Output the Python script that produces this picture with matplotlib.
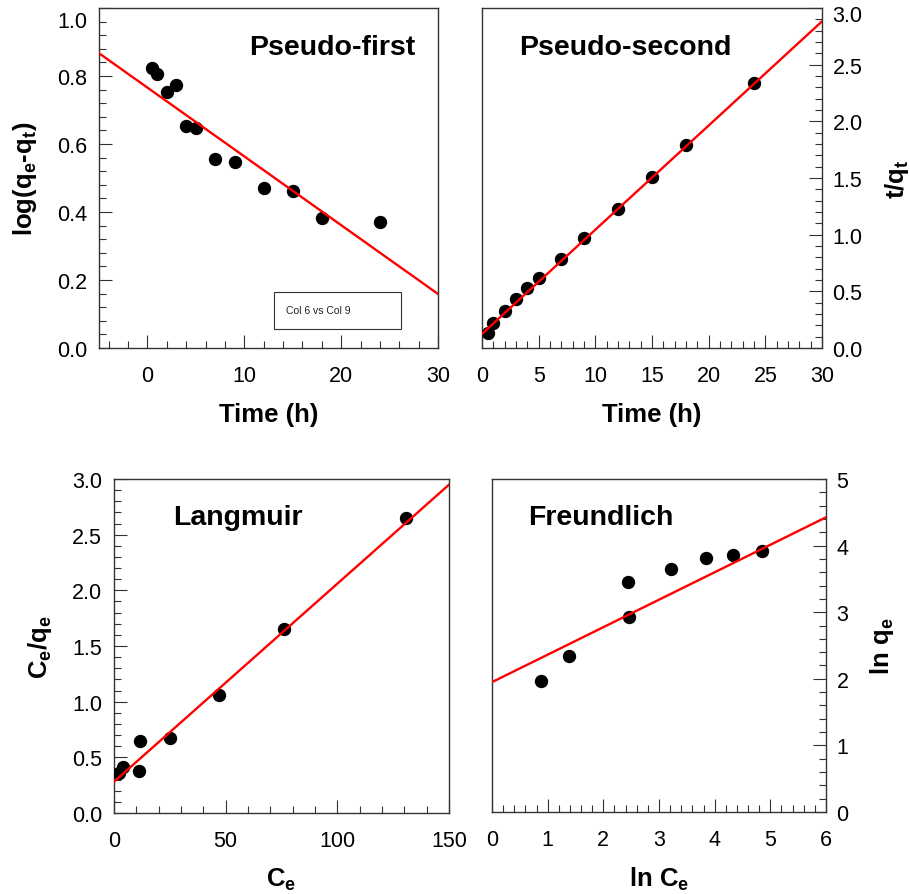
import matplotlib
matplotlib.use('Agg')
import matplotlib.pyplot as plt
from matplotlib.ticker import MultipleLocator, AutoMinorLocator, FormatStrFormatter
from matplotlib.patches import Rectangle

plt.rcParams['font.family'] = ['Liberation Sans', 'DejaVu Sans']
plt.rcParams['mathtext.fontset'] = 'custom'
plt.rcParams['mathtext.rm'] = 'Liberation Sans'
plt.rcParams['mathtext.it'] = 'Liberation Sans:italic'
plt.rcParams['mathtext.bf'] = 'Liberation Sans:bold'

# Pseudo-first order kinetics
pf_time = [0.5, 1, 2, 3, 4, 5, 7, 9, 12, 15, 18, 24]
pf_log = [0.824, 0.806, 0.752, 0.774, 0.652, 0.646, 0.555, 0.548, 0.471, 0.462, 0.382, 0.372]
pf_fit_x = [-5, 30]
pf_fit_y = [0.867, 0.159]

# Pseudo-second order kinetics
ps_time = [0.5, 1, 2, 3, 4, 5, 7, 9, 12, 15, 18, 24]
ps_tq = [0.129, 0.218, 0.329, 0.432, 0.526, 0.618, 0.788, 0.968, 1.229, 1.512, 1.788, 2.341]
ps_fit_x = [0, 30]
ps_fit_y = [0.125, 2.882]

# Langmuir isotherm
lg_ce = [2.2, 3.9, 11.5, 11.3, 25.0, 46.9, 76.3, 130.7]
lg_ceqe = [0.36, 0.41, 0.65, 0.38, 0.674, 1.057, 1.650, 2.650]
lg_fit_x = [0, 150]
lg_fit_y = [0.281, 2.949]

# Freundlich isotherm
fr_lnce = [0.886, 1.389, 2.449, 2.461, 3.216, 3.838, 4.329, 4.856]
fr_lnqe = [1.965, 2.335, 3.455, 2.925, 3.645, 3.82, 3.86, 3.915]
fr_fit_x = [0, 6]
fr_fit_y = [1.95, 4.425]

W, H = 910, 895
AX_COLOR = '#333333'
TICK_FS = 15.5
LABEL_FS = 18.5
TITLE_FS = 20.5


def px_axes(fig, left, right, top, bottom):
    return fig.add_axes([left / W, (H - bottom) / H, (right - left) / W, (bottom - top) / H])


def style_axes(ax, xmaj, ymaj, yfmt, side='left'):
    for s in ax.spines.values():
        s.set_color(AX_COLOR)
        s.set_linewidth(1.0)
    ax.xaxis.set_major_locator(MultipleLocator(xmaj))
    ax.xaxis.set_minor_locator(AutoMinorLocator(5))
    ax.yaxis.set_major_locator(MultipleLocator(ymaj))
    ax.yaxis.set_minor_locator(AutoMinorLocator(5))
    ax.yaxis.set_major_formatter(FormatStrFormatter(yfmt))
    ax.tick_params(which='both', direction='in', colors=AX_COLOR, labelcolor='black',
                   labelsize=TICK_FS, top=False, right=False)
    ax.tick_params(which='major', length=9.6, width=0.8)
    ax.tick_params(which='minor', length=4.9, width=0.8)
    ax.tick_params(axis='x', pad=12.2)
    if side == 'right':
        ax.yaxis.tick_right()
        ax.tick_params(axis='y', which='both', left=False, right=True, pad=7.5)
        ax.yaxis.set_label_position('right')
    else:
        ax.tick_params(axis='y', pad=8.6)


def set_labels(ax, xlabel, ylabel, xpos, ypos):
    ax.set_xlabel(xlabel, fontsize=LABEL_FS, fontweight='bold')
    ax.set_ylabel(ylabel, fontsize=LABEL_FS, fontweight='bold')
    ax.xaxis.set_label_coords(*xpos)
    ax.yaxis.set_label_coords(*ypos)
    ax.xaxis.label.set_va('center')
    ax.yaxis.label.set_va('center')
    ax.yaxis.label.set_ha('center')
    ax.yaxis.label.set_rotation(90)


def draw(ax, x, y, fit_x, fit_y, title, tx):
    ax.plot(x, y, 'o', color='black', markersize=8.6, zorder=3)
    ax.plot(fit_x, fit_y, '-', color='#ff0000', linewidth=1.7, zorder=4)
    ax.text(tx, 0.866, title, transform=ax.transAxes, fontsize=TITLE_FS, fontweight='bold',
            ha='left', va='baseline')


fig = plt.figure(figsize=(W / 100, H / 100), dpi=100)

# Pseudo-first
ax1 = px_axes(fig, 99, 438, 9, 349)
draw(ax1, pf_time, pf_log, pf_fit_x, pf_fit_y, 'Pseudo-first', 0.442)
style_axes(ax1, 10, 0.2, '%.1f')
ax1.set_xlim(-5, 30)
ax1.set_ylim(0, 1.0)
ax1.set_yticks([0, 0.2, 0.4, 0.6, 0.8, 1.0], ['0.0', '0.2', '0.4', '0.6', '0.8', ''])
ax1.annotate('1.0', xy=(0, 1.0), xycoords=('axes fraction', 'data'), xytext=(-8.6, -9.5),
             textcoords='offset points', ha='right', va='center', fontsize=TICK_FS)
set_labels(ax1, 'Time (h)', r'log(q$_\mathbf{e}$-q$_\mathbf{t}$)', (0.5, -0.194), (-0.218, 0.5))
ax1.add_patch(Rectangle((0.516, 0.056), 0.375, 0.11, transform=ax1.transAxes,
                        facecolor='white', edgecolor=AX_COLOR, linewidth=0.8, zorder=5))
ax1.text(0.552, 0.111, 'Col 6 vs Col 9', transform=ax1.transAxes, fontsize=7.5,
         ha='left', va='center', color='#222222', zorder=6)

# Pseudo-second
ax2 = px_axes(fig, 482, 822, 9, 349)
draw(ax2, ps_time, ps_tq, ps_fit_x, ps_fit_y, 'Pseudo-second', 0.109)
style_axes(ax2, 5, 0.5, '%.1f', side='right')
ax2.set_xlim(0, 30)
ax2.set_ylim(0, 3.0)
ax2.set_yticks([0, 0.5, 1.0, 1.5, 2.0, 2.5, 3.0], ['0.0', '0.5', '1.0', '1.5', '2.0', '2.5', ''])
ax2.annotate('3.0', xy=(1, 3.0), xycoords=('axes fraction', 'data'), xytext=(7.5, -5.5),
             textcoords='offset points', ha='left', va='center', fontsize=TICK_FS)
set_labels(ax2, 'Time (h)', r't/q$_\mathbf{t}$', (0.5, -0.194), (1.22, 0.5))

# Langmuir
ax3 = px_axes(fig, 114, 449, 480, 814)
draw(ax3, lg_ce, lg_ceqe, lg_fit_x, lg_fit_y, 'Langmuir', 0.176)
style_axes(ax3, 50, 0.5, '%.1f')
ax3.set_xlim(0, 150)
ax3.set_ylim(0, 3.0)
set_labels(ax3, r'C$_\mathbf{e}$', r'C$_\mathbf{e}$/q$_\mathbf{e}$', (0.5, -0.198), (-0.221, 0.5))

# Freundlich
ax4 = px_axes(fig, 492, 826, 480, 813)
draw(ax4, fr_lnce, fr_lnqe, fr_fit_x, fr_fit_y, 'Freundlich', 0.108)
style_axes(ax4, 1, 1, '%d', side='right')
ax4.set_xlim(0, 6)
ax4.set_ylim(0, 5)
set_labels(ax4, r'ln C$_\mathbf{e}$', r'ln q$_\mathbf{e}$', (0.5, -0.2), (1.168, 0.5))

fig.savefig('out.png', dpi=100)
